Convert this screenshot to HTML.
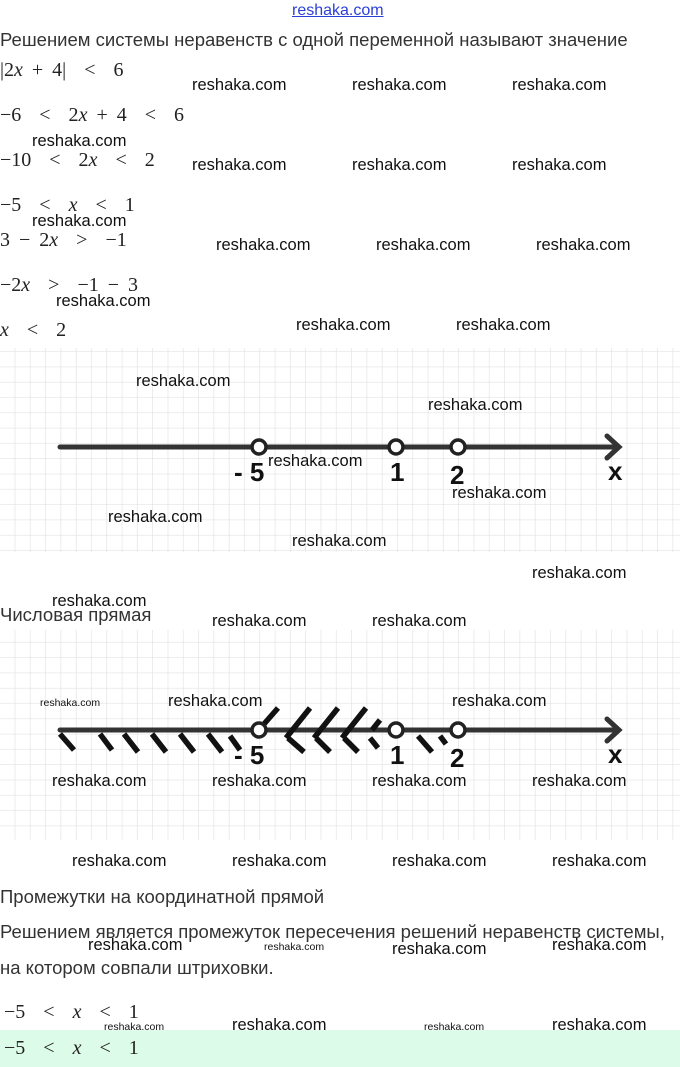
<!DOCTYPE html>
<html><head><meta charset="utf-8"><style>
body{margin:0;width:680px;height:1067px;background:#fff;position:relative;overflow:hidden;font-family:"Liberation Sans",sans-serif}
.a{position:absolute;white-space:nowrap}
.t{font-size:18.5px;color:#333;line-height:20px}
.m{font-family:"Liberation Serif",serif;font-size:20px;color:#222;line-height:22px;word-spacing:4px}
.m i{font-style:italic}
.w{font-size:16.5px;color:#111;line-height:18px;transform:translateY(-9px)}
.s{font-size:10.5px;color:#111;line-height:12px;transform:translateY(-6px)}
</style></head><body>
<div class="a" style="left:292px;top:2px;font-size:16px;color:#2b3fd6;text-decoration:underline">reshaka.com</div>
<div class="a t" style="left:0;top:30px">Решением системы неравенств с одной переменной называют значение</div>
<div class="a m" style="left:0;top:59px">|2<i>x</i> + 4| &nbsp;&lt; &nbsp;6</div>
<div class="a m" style="left:0;top:104px">−6 &nbsp;&lt; &nbsp;2<i>x</i> + 4 &nbsp;&lt; &nbsp;6</div>
<div class="a m" style="left:0;top:149px">−10 &nbsp;&lt; &nbsp;2<i>x</i> &nbsp;&lt; &nbsp;2</div>
<div class="a m" style="left:0;top:194px">−5 &nbsp;&lt; &nbsp;<i>x</i> &nbsp;&lt; &nbsp;1</div>
<div class="a m" style="left:0;top:229px">3 − 2<i>x</i> &nbsp;&gt; &nbsp;−1</div>
<div class="a m" style="left:0;top:274px">−2<i>x</i> &nbsp;&gt; &nbsp;−1 − 3</div>
<div class="a m" style="left:0;top:319px"><i>x</i> &nbsp;&lt; &nbsp;2</div>

<svg class="a" style="left:0;top:0" width="680" height="1067">
<defs><pattern id="g" width="15.3" height="15.3" patternUnits="userSpaceOnUse"><path d="M15.3 0V15.3M0 15.3H15.3" stroke="#e2e2e2" stroke-width="1.3" fill="none"/></pattern></defs>
<rect x="0" y="348" width="680" height="204" fill="url(#g)"/>
<rect x="0" y="630" width="680" height="210" fill="url(#g)"/>
<g stroke="#333" stroke-width="5" fill="none" stroke-linecap="round">
<path d="M60 447H618M607 436L619 447L607 458"/>
<path d="M60 730H618M607 719L619 730L607 741"/>
</g>
<g stroke="#222" stroke-width="3.5" fill="#fff">
<circle cx="259" cy="447" r="7"/><circle cx="396" cy="447" r="7"/><circle cx="458" cy="447" r="7"/>
</g>
<g stroke="#111" stroke-width="5.5" fill="none">
<path d="M60 734L74 750M100 734L112 750M124 734L138 752M152 734L166 752M180 734L194 752M208 734L222 752M230 736L240 750"/>
<path d="M264 724L278 708M286 738L310 708M314 738L338 708M342 738L366 708M372 730L380 720"/>
<path d="M288 738L304 752M316 738L330 752M344 738L358 752M370 738L378 748M418 736L432 752M440 736L446 744"/>
</g>
<g stroke="#222" stroke-width="3.5" fill="#fff">
<circle cx="259" cy="730" r="7"/><circle cx="396" cy="730" r="7"/><circle cx="458" cy="730" r="7"/>
</g>
<g font-family="Liberation Sans,sans-serif" font-size="26" font-weight="bold" fill="#111">
<text x="234" y="481">- 5</text><text x="390" y="481">1</text><text x="450" y="484">2</text><text x="608" y="480">x</text>
<text x="234" y="764">- 5</text><text x="390" y="764">1</text><text x="450" y="767">2</text><text x="608" y="763">x</text>
</g>
<rect x="0" y="1030" width="680" height="37" fill="#dcfce9"/>
</svg>

<div class="a t" style="left:0;top:605px">Числовая прямая</div>
<div class="a t" style="left:0;top:887px">Промежутки на координатной прямой</div>
<div class="a t" style="left:0;top:922px">Решением является промежуток пересечения решений неравенств системы,</div>
<div class="a t" style="left:0;top:958px">на котором совпали штриховки.</div>
<div class="a m" style="left:4px;top:1001px">−5 &nbsp;&lt; &nbsp;<i>x</i> &nbsp;&lt; &nbsp;1</div>
<div class="a m" style="left:4px;top:1037px">−5 &nbsp;&lt; &nbsp;<i>x</i> &nbsp;&lt; &nbsp;1</div>

<div class="a w" style="left:192px;top:85px">reshaka.com</div>
<div class="a w" style="left:352px;top:85px">reshaka.com</div>
<div class="a w" style="left:512px;top:85px">reshaka.com</div>
<div class="a w" style="left:32px;top:141px">reshaka.com</div>
<div class="a w" style="left:192px;top:165px">reshaka.com</div>
<div class="a w" style="left:352px;top:165px">reshaka.com</div>
<div class="a w" style="left:512px;top:165px">reshaka.com</div>
<div class="a w" style="left:32px;top:221px">reshaka.com</div>
<div class="a w" style="left:216px;top:245px">reshaka.com</div>
<div class="a w" style="left:376px;top:245px">reshaka.com</div>
<div class="a w" style="left:536px;top:245px">reshaka.com</div>
<div class="a w" style="left:56px;top:301px">reshaka.com</div>
<div class="a w" style="left:296px;top:325px">reshaka.com</div>
<div class="a w" style="left:456px;top:325px">reshaka.com</div>
<div class="a w" style="left:136px;top:381px">reshaka.com</div>
<div class="a w" style="left:428px;top:405px">reshaka.com</div>
<div class="a w" style="left:268px;top:461px">reshaka.com</div>
<div class="a w" style="left:452px;top:493px">reshaka.com</div>
<div class="a w" style="left:108px;top:517px">reshaka.com</div>
<div class="a w" style="left:292px;top:541px">reshaka.com</div>
<div class="a w" style="left:532px;top:573px">reshaka.com</div>
<div class="a w" style="left:52px;top:601px">reshaka.com</div>
<div class="a w" style="left:212px;top:621px">reshaka.com</div>
<div class="a w" style="left:372px;top:621px">reshaka.com</div>
<div class="a s" style="left:40px;top:703px">reshaka.com</div>
<div class="a w" style="left:168px;top:701px">reshaka.com</div>
<div class="a w" style="left:452px;top:701px">reshaka.com</div>
<div class="a w" style="left:52px;top:781px">reshaka.com</div>
<div class="a w" style="left:212px;top:781px">reshaka.com</div>
<div class="a w" style="left:372px;top:781px">reshaka.com</div>
<div class="a w" style="left:532px;top:781px">reshaka.com</div>
<div class="a w" style="left:72px;top:861px">reshaka.com</div>
<div class="a w" style="left:232px;top:861px">reshaka.com</div>
<div class="a w" style="left:392px;top:861px">reshaka.com</div>
<div class="a w" style="left:552px;top:861px">reshaka.com</div>
<div class="a w" style="left:88px;top:945px">reshaka.com</div>
<div class="a s" style="left:264px;top:947px">reshaka.com</div>
<div class="a w" style="left:392px;top:949px">reshaka.com</div>
<div class="a w" style="left:552px;top:945px">reshaka.com</div>
<div class="a s" style="left:104px;top:1027px">reshaka.com</div>
<div class="a w" style="left:232px;top:1025px">reshaka.com</div>
<div class="a s" style="left:424px;top:1027px">reshaka.com</div>
<div class="a w" style="left:552px;top:1025px">reshaka.com</div>
</body></html>
